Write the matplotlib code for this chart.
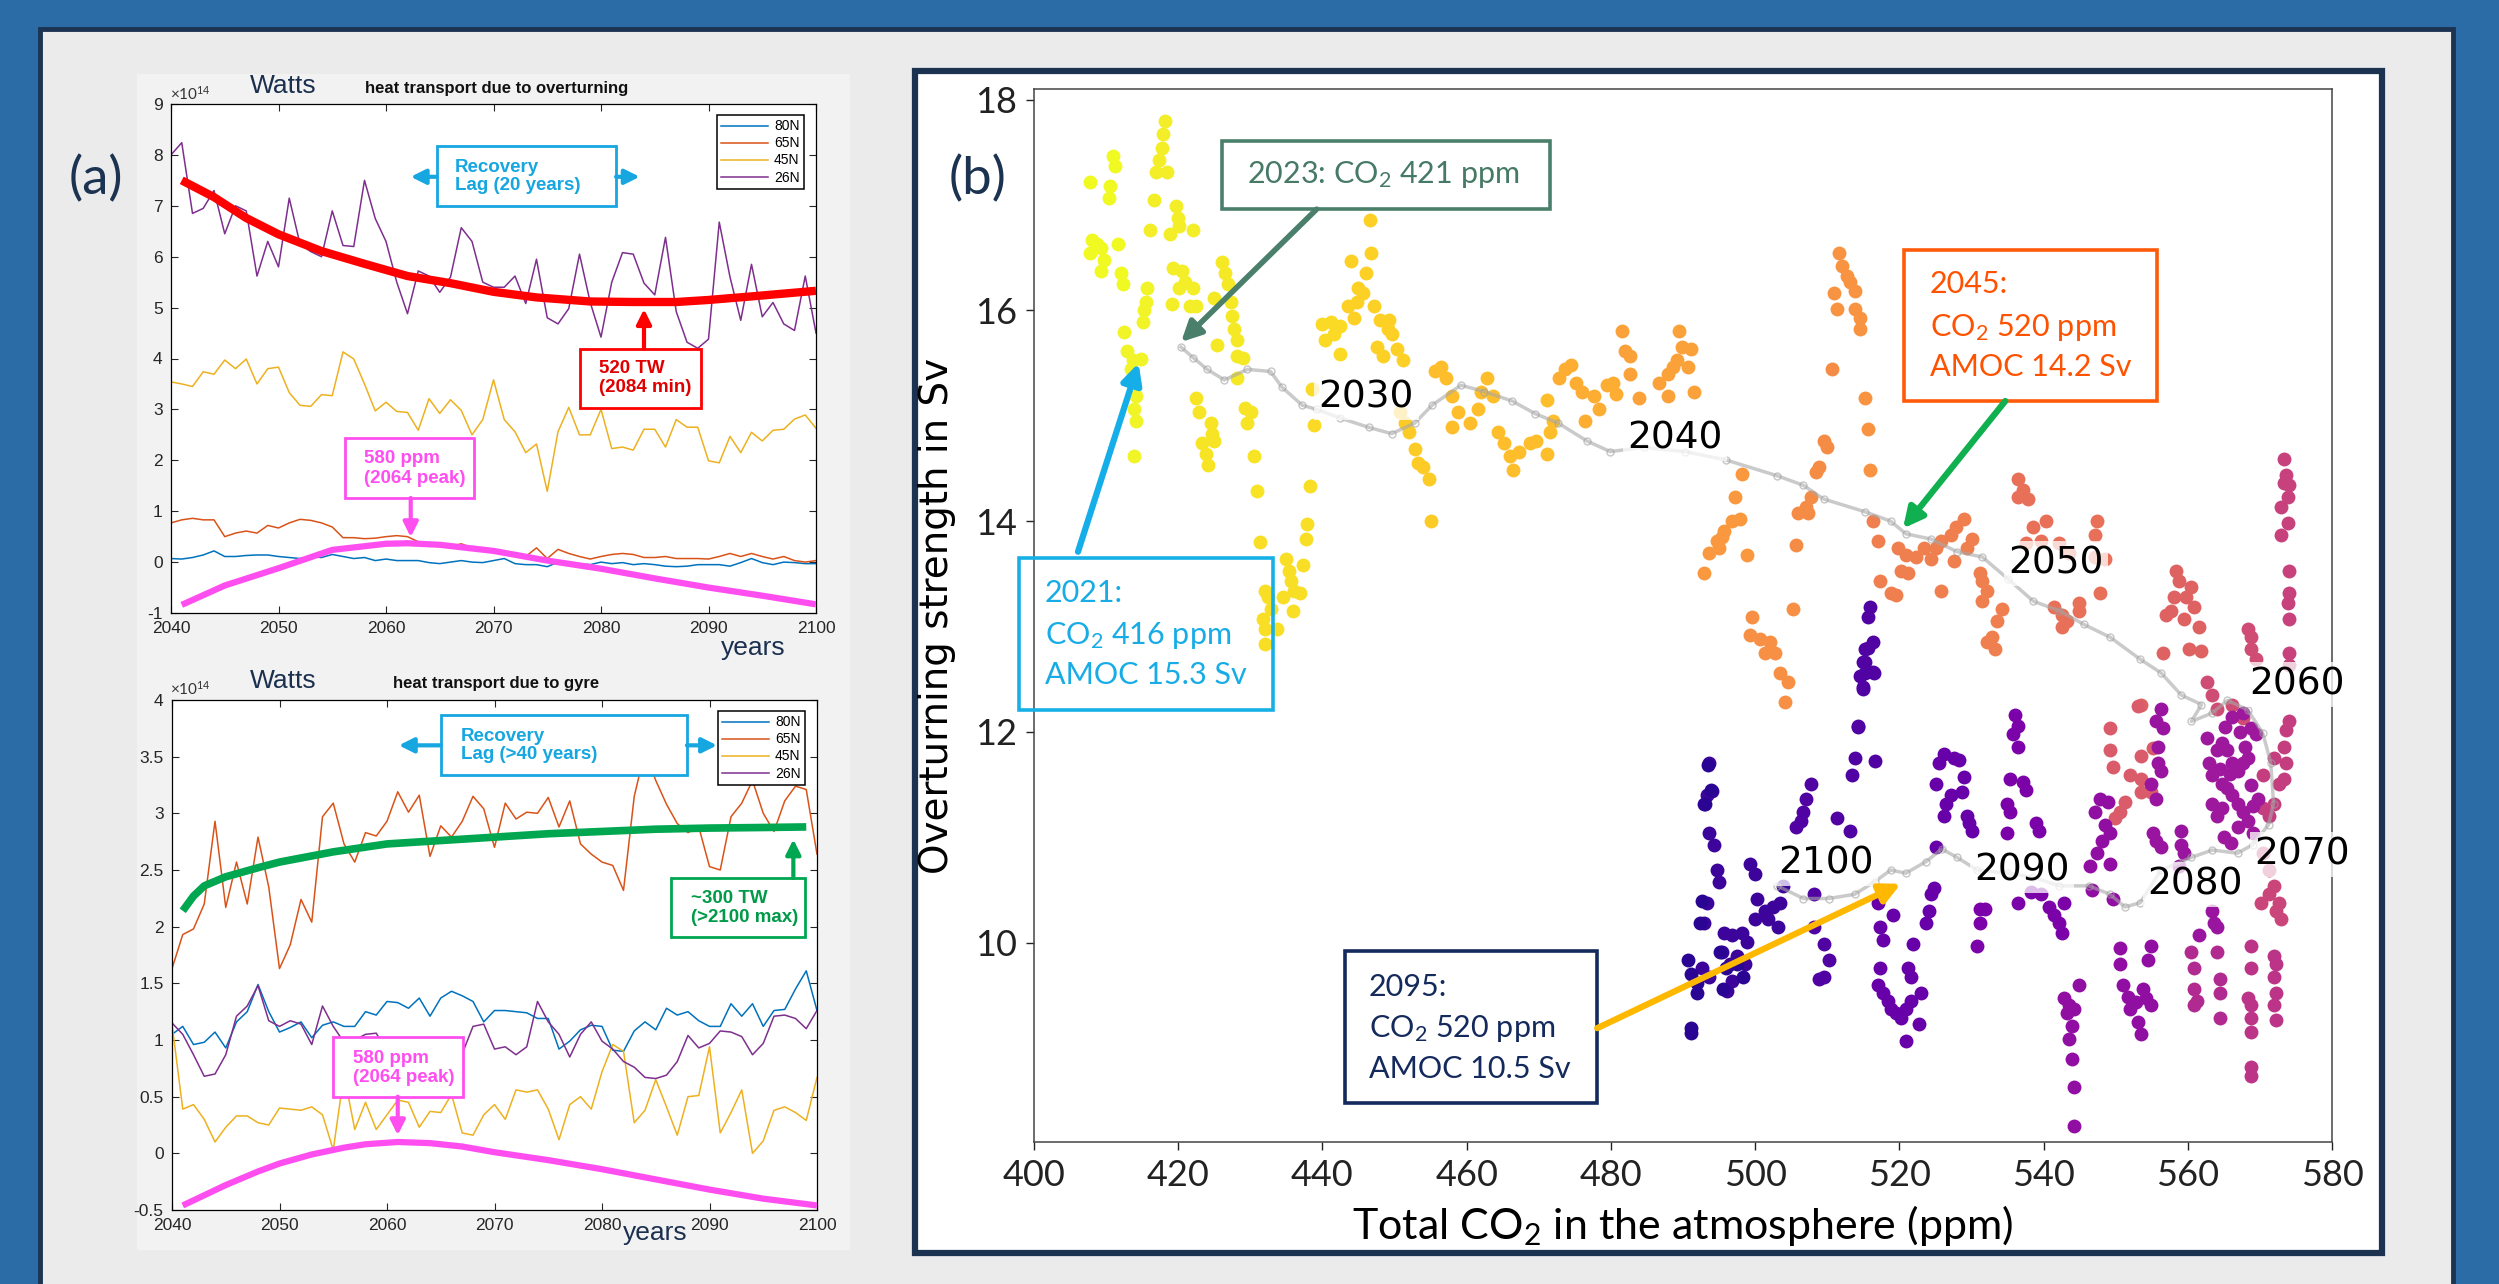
import matplotlib
matplotlib.use("Agg")
import matplotlib.pyplot as plt
from matplotlib.patches import Rectangle

W, H = 2499, 1284

plt.rcParams['axes.unicode_minus'] = False
plt.rcParams['mathtext.fontset'] = 'custom'
plt.rcParams['mathtext.rm'] = 'Lato'
plt.rcParams['mathtext.it'] = 'Lato:italic'
plt.rcParams['mathtext.bf'] = 'Lato:bold'

NARROW = ['Liberation Sans Narrow', 'Liberation Sans', 'DejaVu Sans']
CAL = ['Lato', 'DejaVu Sans']
NAVY = '#1b3350'

# ---------------- panel (a): heat transport, units of 1e14 W ----------------
years = list(range(2040, 2101))

ov_80n = [0.07, 0.06, 0.09, 0.14, 0.22, 0.11, 0.11, 0.13, 0.14, 0.14,
          0.11, 0.09, 0.07, 0.11, 0.09, 0.15, 0.11, 0.07, 0.09, 0.03,
          0.06, 0.03, 0.03, 0.03, -0.01, -0.03, 0.0, 0.03, 0.0, -0.01,
          0.03, 0.07, -0.03, -0.05, -0.05, -0.09, 0.0, 0.0, -0.03, -0.05,
          0.0, -0.03, -0.01, -0.05, -0.03, -0.05, -0.08, -0.09, -0.08, -0.05,
          -0.05, -0.05, -0.08, -0.01, 0.07, -0.01, -0.05, 0.0, -0.01, -0.03,
          -0.03]
ov_65n = [0.77, 0.83, 0.86, 0.83, 0.83, 0.5, 0.57, 0.61, 0.57, 0.72,
          0.67, 0.77, 0.84, 0.82, 0.77, 0.69, 0.48, 0.48, 0.46, 0.47,
          0.5, 0.52, 0.5, 0.4, 0.34, 0.32, 0.3, 0.36, 0.28, 0.23,
          0.19, 0.17, 0.14, 0.11, 0.28, 0.07, 0.25, 0.17, 0.11, 0.06,
          0.11, 0.15, 0.17, 0.15, 0.09, 0.09, 0.11, 0.07, 0.07, 0.07,
          0.06, 0.11, 0.17, 0.11, 0.17, 0.11, 0.06, 0.11, 0.03, 0.0,
          0.03]
ov_45n = [3.54, 3.5, 3.45, 3.74, 3.69, 3.97, 3.8, 3.99, 3.5, 3.8,
          3.83, 3.33, 3.08, 3.06, 3.29, 3.27, 4.13, 3.99, 3.5, 2.97,
          3.14, 2.96, 2.94, 2.59, 3.21, 2.92, 3.19, 2.98, 2.5, 2.8,
          3.58, 2.8, 2.56, 2.15, 2.32, 1.39, 2.56, 3.04, 2.5, 2.5,
          3.0, 2.23, 2.26, 2.2, 2.61, 2.61, 2.26, 2.8, 2.65, 2.65,
          1.99, 1.95, 2.47, 2.15, 2.55, 2.38, 2.59, 2.61, 2.81, 2.89,
          2.63]
ov_26n = [8.0, 8.24, 6.85, 6.95, 7.3, 6.45, 7.0, 6.9, 5.62, 6.3,
          5.8, 7.15, 6.25, 6.1, 6.0, 6.9, 6.22, 6.2, 7.5, 6.75,
          6.3, 5.5, 4.88, 5.72, 5.62, 5.3, 5.6, 6.57, 6.3, 5.5,
          5.4, 5.4, 5.62, 5.08, 5.95, 4.8, 4.68, 4.98, 6.05, 5.1,
          4.42, 5.5, 6.08, 6.05, 5.48, 5.25, 6.38, 4.92, 4.32, 4.2,
          4.38, 6.68, 5.6, 4.75, 5.85, 4.82, 5.1, 4.68, 4.55, 5.62,
          4.5]

gy_80n = [1.05, 1.12, 0.96, 0.98, 1.07, 0.93, 1.16, 1.25, 1.49, 1.25,
          1.07, 1.11, 1.16, 1.02, 1.13, 1.16, 1.12, 1.12, 1.25, 1.22,
          1.34, 1.33, 1.28, 1.37, 1.21, 1.37, 1.43, 1.39, 1.34, 1.16,
          1.26, 1.26, 1.25, 1.24, 1.19, 1.19, 0.92, 0.99, 1.09, 1.13,
          1.12, 0.91, 0.9, 1.08, 1.16, 1.09, 1.28, 1.22, 1.25, 1.17,
          1.12, 1.12, 1.32, 1.21, 1.32, 1.12, 1.26, 1.27, 1.45, 1.61,
          1.26]
gy_65n = [1.63, 1.93, 1.98, 2.2, 2.93, 2.17, 2.57, 2.2, 2.79, 2.35,
          1.63, 1.84, 2.24, 2.04, 2.97, 3.09, 2.73, 2.57, 2.83, 2.8,
          2.93, 3.19, 3.01, 3.16, 2.62, 2.89, 2.79, 2.93, 3.15, 3.04,
          2.7, 3.09, 2.95, 3.01, 3.0, 3.14, 2.88, 3.11, 2.73, 2.64,
          2.57, 2.54, 2.32, 3.15, 3.55, 3.29, 3.08, 2.91, 2.83, 2.88,
          2.53, 2.5, 2.97, 3.09, 3.29, 3.0, 2.84, 3.11, 3.24, 3.21,
          2.64]
gy_45n = [1.14, 0.39, 0.43, 0.3, 0.1, 0.23, 0.33, 0.33, 0.27, 0.25,
          0.4, 0.39, 0.38, 0.41, 0.34, 0.03, 0.7, 0.21, 0.45, 0.21,
          0.34, 0.47, 0.45, 0.23, 0.37, 0.36, 0.52, 0.18, 0.16, 0.34,
          0.43, 0.3, 0.56, 0.54, 0.56, 0.39, 0.12, 0.43, 0.5, 0.39,
          0.72, 0.96, 0.9, 0.27, 0.38, 0.65, 0.41, 0.16, 0.5, 0.51,
          0.94, 0.18, 0.36, 0.56, 0.0, 0.11, 0.38, 0.41, 0.36, 0.29,
          0.67]
gy_26n = [1.15, 1.05, 0.87, 0.68, 0.7, 0.87, 1.21, 1.3, 1.48, 1.17,
          1.12, 1.17, 1.14, 0.96, 1.3, 1.12, 0.98, 1.0, 1.05, 1.06,
          0.9, 0.85, 0.8, 0.9, 0.85, 0.95, 0.75, 0.88, 1.12, 1.14,
          0.92, 0.94, 0.87, 0.94, 1.34, 1.16, 1.05, 0.85, 1.05, 1.16,
          0.99, 0.92, 0.81, 0.76, 0.67, 0.66, 0.69, 0.81, 1.04, 0.93,
          0.97, 1.08, 1.07, 1.03, 0.87, 0.97, 1.21, 1.22, 1.19, 1.1,
          1.26]

# smooth fits
ov_fit_years = [2041, 2044, 2047, 2050, 2054, 2058, 2062, 2066, 2070, 2074, 2079, 2083, 2087, 2090, 2094, 2100]
ov_fit = [7.5, 7.17, 6.76, 6.44, 6.11, 5.86, 5.62, 5.48, 5.31, 5.2, 5.12, 5.11, 5.11, 5.15, 5.22, 5.33]
ov_co2_years = [2041, 2045, 2050, 2055, 2060, 2062, 2065, 2070, 2075, 2080, 2085, 2090, 2095, 2100]
ov_co2 = [-0.84, -0.46, -0.12, 0.24, 0.36, 0.37, 0.34, 0.22, 0.03, -0.13, -0.32, -0.5, -0.66, -0.83]
gy_fit_years = [2041, 2042, 2043, 2045, 2048, 2050, 2055, 2060, 2065, 2070, 2075, 2080, 2085, 2090, 2095, 2099]
gy_fit = [2.14, 2.27, 2.36, 2.44, 2.52, 2.57, 2.66, 2.73, 2.76, 2.79, 2.82, 2.84, 2.86, 2.87, 2.875, 2.88]
gy_co2_years = [2041, 2043, 2045, 2048, 2050, 2053, 2056, 2058, 2061, 2064, 2067, 2070, 2075, 2080, 2085, 2090, 2095, 2100]
gy_co2 = [-0.46, -0.37, -0.28, -0.16, -0.09, -0.01, 0.05, 0.08, 0.1, 0.09, 0.06, 0.01, -0.06, -0.14, -0.23, -0.32, -0.4, -0.46]

line_labels = ['80N', '65N', '45N', '26N']
line_colors = ['#0072BD', '#D95319', '#EDB120', '#7E2F8E']
gy_yticklabels = ['-0.5', '0', '0.5', '1', '1.5', '2', '2.5', '3', '3.5', '4']

# ---------------- panel (b): AMOC vs CO2, one group per year ----------------
c2021 = [407.7, 410.9, 411.2, 410.5, 410.4, 408.1, 408.8, 407.7, 409.3, 409.7, 409.3, 411.6, 412.0, 412.4]
s2021 = [17.22, 17.46, 17.37, 17.18, 17.07, 16.67, 16.63, 16.54, 16.59, 16.48, 16.37, 16.63, 16.35, 16.25]
c2022 = [412.5, 412.9, 413.7, 414.9, 413.4, 414.1, 413.9, 414.1, 413.9, 415.7, 415.5, 415.3, 415.1]
s2022 = [15.79, 15.61, 15.53, 15.54, 15.44, 15.19, 15.06, 14.95, 14.62, 16.21, 16.08, 16.00, 15.89]
c2023 = [418.1, 417.9, 417.7, 417.3, 416.9, 418.5, 416.7, 416.1, 419.7, 420.0, 420.1, 418.9, 422.1, 419.3,
         420.5, 420.9, 422.1, 420.1, 419.1, 421.7, 422.5]
s2023 = [17.80, 17.67, 17.54, 17.43, 17.31, 17.31, 17.05, 16.76, 16.99, 16.88, 16.80, 16.72, 16.76, 16.40,
         16.37, 16.27, 16.21, 16.21, 16.06, 16.04, 16.04]
c2024 = [426.1, 426.5, 426.9, 424.9, 427.3, 427.4, 427.7, 425.4, 428.1, 428.2, 429.0, 428.1]
s2024 = [16.46, 16.35, 16.25, 16.12, 16.08, 15.95, 15.82, 15.67, 15.72, 15.57, 15.55, 15.36]
c2025 = [422.5, 422.9, 424.5, 424.7, 423.3, 423.9, 424.1, 424.9, 429.3, 429.5, 430.1, 430.5, 430.9]
s2025 = [15.17, 15.04, 14.93, 14.83, 14.74, 14.64, 14.53, 14.76, 15.07, 14.93, 15.04, 14.62, 14.29]
c2026 = [431.3, 432.1, 432.5, 432.9, 431.7, 432.1, 433.7, 432.1, 434.5, 434.9, 435.3, 435.9, 435.7, 436.1,
         436.9, 437.3, 437.7, 437.8, 438.3]
s2026 = [13.80, 13.34, 13.28, 13.17, 13.07, 12.98, 12.98, 12.83, 13.28, 13.64, 13.53, 13.15, 13.43, 13.34,
         13.32, 13.58, 13.83, 13.97, 14.33]
c2027 = [438.5, 438.8, 440.0, 441.2, 442.4, 441.6, 440.4, 442.4]
s2027 = [15.25, 14.91, 15.87, 15.89, 15.85, 15.78, 15.72, 15.59]
c2029 = [443.6, 444.4, 444.8, 445.0, 445.6, 446.0, 444.0, 446.8, 446.6, 447.2, 448.0, 449.2, 449.1, 449.6,
         447.6, 448.4, 450.3, 451.2]
s2029 = [16.04, 15.93, 16.08, 16.21, 16.16, 16.35, 16.47, 16.54, 16.86, 16.04, 15.91, 15.91, 15.82, 15.78,
         15.65, 15.57, 15.63, 15.53]
c2030 = [452.0, 452.8, 453.2, 454.0, 454.8, 455.0, 451.4, 450.8]
s2030 = [14.85, 14.68, 14.55, 14.51, 14.40, 14.00, 14.93, 15.04]
c2033 = [455.6, 456.4, 457.2, 458.0, 458.8, 458.0, 460.4, 461.6, 462.8, 462.0, 463.6, 464.4, 465.2, 466.0,
         466.4, 467.2, 468.8, 469.6, 471.2, 471.6, 472.0, 471.2]
s2033 = [15.42, 15.46, 15.36, 15.19, 15.04, 14.89, 14.93, 15.06, 15.36, 15.23, 15.19, 14.85, 14.74, 14.62,
         14.49, 14.66, 14.74, 14.76, 14.64, 14.85, 14.95, 15.15]
c2036 = [472.8, 473.6, 474.4, 475.2, 476.0, 476.4, 477.6, 478.4, 479.5, 480.3, 480.7]
s2036 = [15.36, 15.44, 15.48, 15.31, 15.23, 14.95, 15.19, 15.06, 15.29, 15.31, 15.21]
c2039 = [481.5, 481.9, 482.7, 482.7, 483.9, 486.7, 487.9, 488.6, 489.1, 489.5, 489.9, 491.1, 490.7, 491.5, 487.9]
s2039 = [15.80, 15.61, 15.57, 15.40, 15.17, 15.31, 15.40, 15.46, 15.53, 15.80, 15.65, 15.63, 15.46, 15.23, 15.19]
c2041 = [498.2, 497.2, 497.9, 496.8, 495.7, 495.4, 494.7, 495.0, 493.6, 492.9, 498.9]
s2041 = [14.45, 14.23, 14.02, 14.00, 13.91, 13.85, 13.81, 13.75, 13.70, 13.51, 13.68]
c2042 = [511.7, 512.0, 512.7, 513.1, 513.8, 511.0, 511.3, 513.8, 514.5, 514.6, 515.2, 515.6, 515.9]
s2042 = [16.54, 16.42, 16.33, 16.27, 16.18, 16.16, 16.01, 16.01, 15.93, 15.82, 15.17, 14.87, 14.49]
c2043 = [499.6, 499.3, 500.7, 501.4, 502.1, 502.8, 503.5, 504.6, 504.2, 505.3]
s2043 = [13.09, 12.92, 12.88, 12.75, 12.85, 12.75, 12.56, 12.47, 12.28, 13.17]
c2044 = [509.5, 509.9, 508.8, 508.5, 507.8, 507.1, 507.4, 506.0, 505.7, 510.6]
s2044 = [14.76, 14.70, 14.51, 14.47, 14.23, 14.13, 14.08, 14.08, 13.77, 15.44]
c2047 = [516.3, 517.0, 519.8, 520.9, 522.3, 523.4, 525.1, 524.4, 525.8, 527.2, 527.9, 529.0, 530.1, 529.4,
         527.6, 520.2, 521.2, 517.3, 518.8, 519.5, 525.8, 531.2, 531.5, 532.2, 531.5, 534.3, 533.6, 532.9,
         533.3, 532.2]
s2047 = [14.00, 13.81, 13.75, 13.68, 13.66, 13.75, 13.75, 13.64, 13.81, 13.87, 13.94, 14.02, 13.83, 13.75,
         13.62, 13.53, 13.51, 13.43, 13.32, 13.30, 13.34, 13.51, 13.43, 13.34, 13.24, 13.17, 13.05, 12.90,
         12.79, 12.85]
c2051 = [536.5, 537.2, 536.5, 537.9, 538.6, 540.4, 537.5, 539.7, 542.1, 543.5, 547.4, 547.1, 547.1, 548.5,
         547.8, 541.4, 542.5, 544.9, 544.9, 543.2, 542.5]
s2051 = [14.40, 14.30, 14.23, 14.21, 13.94, 14.00, 13.79, 13.81, 13.79, 13.70, 14.00, 13.87, 13.66, 13.64,
         13.32, 13.19, 13.11, 13.22, 13.15, 13.05, 13.00]
c2055 = [556.6, 558.4, 558.8, 558.1, 559.8, 560.5, 560.9, 557.7, 557.0, 559.5, 561.6, 560.2, 561.9, 553.5]
s2055 = [12.75, 13.53, 13.43, 13.28, 13.28, 13.38, 13.19, 13.15, 13.11, 13.07, 13.00, 12.79, 12.77, 12.26]
c2057 = [553.1, 549.2, 555.2, 549.2, 549.6, 553.5, 552.0, 553.5, 551.3, 550.6, 553.5, 554.9, 549.9]
s2057 = [12.25, 12.04, 11.85, 11.83, 11.67, 11.77, 11.59, 11.55, 11.34, 11.24, 11.43, 11.43, 11.18]
c2061 = [568.3, 568.7, 568.7, 569.4, 562.7, 563.4, 564.1, 566.2, 567.6]
s2061 = [12.98, 12.90, 12.79, 12.69, 12.47, 12.35, 12.22, 12.26, 12.13]
c2063 = [570.5, 571.2, 571.9, 572.6, 571.2, 570.1, 572.2, 572.9]
s2063 = [10.85, 10.69, 10.54, 10.38, 10.46, 10.38, 10.30, 10.23]
c2064 = [573.3, 573.6, 573.3, 574.0, 573.9, 572.9, 573.9, 572.9, 574.0, 574.0, 573.9, 574.0, 574.0, 574.0]
s2064 = [14.59, 14.44, 14.36, 14.34, 14.23, 14.13, 13.98, 13.87, 13.53, 13.32, 13.22, 13.07, 12.75, 12.64]
c2065 = [570.5, 571.2, 571.9, 572.6, 573.3, 573.6, 573.3, 573.6, 574.0, 571.9, 570.5]
s2065 = [11.28, 11.20, 11.32, 11.51, 11.55, 11.71, 11.86, 12.02, 12.10, 11.75, 11.59]
c2068 = [568.7, 568.7, 568.3, 568.7, 568.7, 568.7, 568.7, 568.7, 571.9, 572.2, 571.9, 572.2, 571.9, 572.2]
s2068 = [9.97, 9.76, 9.48, 9.41, 9.29, 9.15, 8.82, 8.74, 9.87, 9.80, 9.68, 9.52, 9.41, 9.27]
c2071 = [560.5, 560.9, 560.9, 561.3, 560.9, 564.1, 564.4, 564.4, 564.4]
s2071 = [9.91, 9.76, 9.56, 9.45, 9.41, 9.91, 9.66, 9.52, 9.29]
c2076 = [562.7, 563.0, 563.4, 564.1, 564.8, 565.5, 566.2, 566.9, 567.6, 568.0, 568.3, 564.8, 565.5, 566.2,
         566.9, 567.6, 568.3, 569.0, 569.7, 564.1, 563.4, 564.8, 566.2, 567.6, 568.7, 569.4,
         565.0, 566.0, 567.0, 565.8, 564.5, 567.2, 568.8, 569.0, 565.2]
s2076 = [11.94, 11.71, 11.59, 11.83, 11.90, 11.83, 11.71, 11.63, 11.71, 11.86, 11.75, 11.51, 11.47, 11.40,
         11.32, 11.24, 11.16, 11.04, 11.36, 11.20, 11.32, 11.28, 12.14, 12.18, 12.04, 11.98,
         11.00, 10.95, 11.10, 11.60, 11.65, 12.00, 11.50, 11.30, 12.05]
c2077 = [555.2, 555.6, 556.3, 555.6, 555.9, 556.3, 554.9, 555.9, 555.6, 556.3, 556.6, 559.1, 559.1, 559.5,
         558.8, 561.6, 563.7, 564.1, 563.4]
s2077 = [11.04, 10.97, 10.91, 11.36, 11.71, 11.63, 11.51, 11.86, 12.10, 12.22, 12.04, 11.06, 10.93, 10.85,
         10.73, 10.07, 10.19, 10.15, 10.30]
c2079 = [547.1, 547.8, 548.9, 548.5, 549.2, 548.1, 547.4, 546.4, 549.2, 549.6, 546.7, 550.6, 550.6, 551.0,
         551.7, 552.0, 552.8, 553.1, 553.5, 553.8, 554.9, 554.5, 554.2, 554.9, 542.8, 543.5, 543.2, 544.2,
         543.9, 543.5, 543.9, 544.2, 544.2, 544.9]
s2079 = [11.24, 11.36, 11.34, 11.12, 11.04, 10.97, 10.85, 10.73, 10.75, 10.42, 10.50, 9.95, 9.80, 9.60,
         9.49, 9.37, 9.44, 9.25, 9.13, 9.56, 9.97, 9.84, 9.48, 9.41, 9.48, 9.41, 9.33, 9.37,
         9.21, 9.09, 8.90, 8.63, 8.26, 9.60]
c2084 = [531.2, 531.2, 530.8, 531.9, 535.0, 536.1, 536.5, 535.8, 536.5, 535.4, 537.2, 537.5, 535.0, 535.4,
         538.9, 539.3, 539.7, 540.7, 541.4, 542.1, 542.5, 542.8, 536.5, 538.2]
s2084 = [10.32, 10.19, 9.97, 10.32, 11.04, 12.16, 12.06, 11.98, 11.86, 11.55, 11.53, 11.45, 11.32, 11.24,
         11.14, 11.06, 10.46, 10.34, 10.26, 10.19, 10.09, 10.38, 10.38, 10.48]
c2088 = [517.0, 517.3, 517.7, 519.1, 517.3, 517.0, 517.7, 518.4, 518.8, 519.5, 520.2, 520.9, 521.6, 521.2,
         520.9, 521.9, 522.7, 523.0, 521.6, 523.7, 524.1, 524.4, 524.8, 525.1, 526.2, 525.5, 527.6, 528.3,
         525.1, 526.5, 527.2, 529.0, 528.7, 526.2, 529.4, 529.7, 530.1]
s2088 = [10.38, 10.15, 10.03, 10.26, 9.76, 9.60, 9.52, 9.45, 9.37, 9.33, 9.29, 9.37, 9.45, 9.76,
         9.07, 9.99, 9.23, 9.52, 9.68, 10.19, 10.30, 10.46, 10.52, 10.91, 11.79, 11.71, 11.75, 11.73,
         11.51, 11.32, 11.40, 11.57, 11.43, 11.20, 11.20, 11.14, 11.06]
c2093 = [505.7, 506.7, 506.4, 507.8, 507.1, 508.1, 508.1, 509.5, 510.3, 509.5, 508.8, 511.3, 513.1, 513.8,
         513.5, 514.2, 516.6, 514.9, 515.2, 515.6, 514.5, 516.3, 515.9, 515.6, 516.3, 515.2, 514.9, 515.2,
         516.5, 514.9, 514.2]
s2093 = [11.10, 11.24, 11.16, 11.51, 11.36, 10.46, 10.15, 9.99, 9.84, 9.68, 9.66, 11.18, 11.06, 11.75,
         11.59, 12.06, 11.72, 12.43, 12.66, 12.80, 12.53, 12.57, 13.19, 13.09, 12.85, 12.79, 12.66, 12.56,
         12.56, 12.41, 12.05]
c2097 = [493.6, 494.0, 493.3, 492.9, 493.6, 494.3, 494.7, 495.0, 493.3, 492.9, 492.6, 493.6, 495.4, 496.5,
         497.5, 498.6, 496.8, 496.1, 495.7, 496.8, 498.2, 498.9, 499.3, 500.0, 500.3, 501.4, 500.0, 501.8,
         502.5, 503.5, 503.2, 503.9]
s2097 = [11.71, 11.44, 11.40, 11.32, 11.04, 10.93, 10.69, 10.58, 10.38, 10.19, 9.76, 9.68, 9.91, 9.80,
         9.87, 9.80, 9.64, 9.54, 10.09, 10.07, 10.09, 10.01, 10.75, 10.65, 10.42, 10.30, 10.23, 10.23,
         10.34, 10.38, 10.15, 10.54]
c2100 = [493.5, 493.9, 493.1, 492.7, 492.3, 490.7, 491.1, 491.9, 491.9, 491.1, 491.1, 495.1, 495.9, 495.5, 497.5, 498.3]
s2100 = [11.69, 11.45, 11.32, 10.40, 10.19, 9.84, 9.70, 9.62, 9.52, 9.19, 9.14, 9.91, 9.76, 9.56, 9.80, 9.68]

groups = [(2021, c2021, s2021), (2022, c2022, s2022), (2023, c2023, s2023), (2024, c2024, s2024),
          (2025, c2025, s2025), (2026, c2026, s2026), (2027, c2027, s2027), (2029, c2029, s2029),
          (2030, c2030, s2030), (2033, c2033, s2033), (2036, c2036, s2036), (2039, c2039, s2039),
          (2041, c2041, s2041), (2042, c2042, s2042), (2043, c2043, s2043), (2044, c2044, s2044),
          (2047, c2047, s2047), (2051, c2051, s2051), (2055, c2055, s2055), (2057, c2057, s2057),
          (2061, c2061, s2061), (2063, c2063, s2063), (2064, c2064, s2064), (2065, c2065, s2065),
          (2068, c2068, s2068), (2071, c2071, s2071), (2076, c2076, s2076), (2077, c2077, s2077),
          (2079, c2079, s2079), (2084, c2084, s2084), (2088, c2088, s2088), (2093, c2093, s2093),
          (2097, c2097, s2097), (2100, c2100, s2100)]

# running mean path
traj_co2 = [420.4, 422.1, 424.0, 426.4, 429.6, 432.8, 434.4, 437.2, 439.2, 442.4, 446.4, 449.6, 452.8, 455.2,
            459.2, 462.4, 466.3, 469.5, 472.7, 476.7, 479.9, 484.6, 490.3, 496.0, 503.1, 506.7, 509.5, 515.2,
            518.8, 520.9, 524.4, 528.0, 531.5, 535.1, 538.6, 542.2, 545.6, 549.2, 553.4, 556.3, 559.1, 561.9,
            560.5, 563.4, 565.5, 568.3, 570.4, 571.5, 571.9, 571.2, 569.0, 566.9, 563.4, 560.5, 556.3, 553.4,
            551.3, 549.2, 546.3, 542.2, 538.6, 535.1, 530.8, 528.0, 525.9, 523.7, 520.9, 518.8, 516.6, 513.8,
            510.2, 506.7, 503.1]
traj_sv = [15.65, 15.55, 15.44, 15.34, 15.44, 15.42, 15.27, 15.10, 15.06, 14.98, 14.89, 14.83, 14.93, 15.10,
           15.29, 15.23, 15.14, 15.02, 14.93, 14.76, 14.66, 14.70, 14.66, 14.58, 14.43, 14.34, 14.21, 14.09,
           14.00, 13.88, 13.83, 13.71, 13.66, 13.45, 13.24, 13.15, 13.02, 12.90, 12.69, 12.56, 12.35, 12.26,
           12.10, 12.18, 12.30, 12.21, 11.99, 11.71, 11.32, 11.12, 10.93, 10.85, 10.88, 10.81, 10.69, 10.38,
           10.34, 10.46, 10.54, 10.54, 10.62, 10.66, 10.69, 10.81, 10.89, 10.77, 10.66, 10.69, 10.58, 10.46,
           10.42, 10.42, 10.54]

yr_labels = ['2030', '2040', '2050', '2060', '2070', '2080', '2090', '2100']
yr_co2 = [446.1, 488.9, 541.7, 575.2, 575.9, 561.0, 537.0, 509.8]
yr_sv = [15.17, 14.78, 13.60, 12.45, 10.84, 10.55, 10.69, 10.75]

# ---------------------------------------------------------------------------
fig = plt.figure(figsize=(W / 100, H / 100), dpi=100)
fig.patch.set_facecolor('#2b6ca7')


def px_rect(x0, y0, x1, y1, **kw):
    r = Rectangle((x0 / W, 1 - y1 / H), (x1 - x0) / W, (y1 - y0) / H,
                  transform=fig.transFigure, zorder=-1, **kw)
    fig.add_artist(r)


def px_text(x, y, s, **kw):
    fig.text(x / W, 1 - y / H, s, **kw)


px_rect(40, 29, 2453, 1300, facecolor='#ebebeb', edgecolor='#1c3452', lw=3.5)
px_rect(137, 74, 850, 1250, facecolor='#f2f2f2', edgecolor='none')
px_rect(915, 71, 2382, 1253, facecolor='white', edgecolor=NAVY, lw=4.5)


def heat_axes(x0, y0, x1, y1, series, ylim, yticks):
    ax = fig.add_axes([x0 / W, 1 - y1 / H, (x1 - x0) / W, (y1 - y0) / H])
    for vals, col, lab in zip(series, line_colors, line_labels):
        ax.plot(years, vals, color=col, lw=1.1, label=lab, zorder=2)
    ax.set_xlim(2040, 2100)
    ax.set_ylim(*ylim)
    ax.set_xticks(range(2040, 2101, 10))
    ax.set_yticks(yticks)
    ax.tick_params(direction='in', top=True, right=True, length=5, width=0.8,
                   labelsize=12.5, pad=6, colors='#262626')
    for lbl in ax.get_xticklabels() + ax.get_yticklabels():
        lbl.set_family(NARROW)
    for sp in ax.spines.values():
        sp.set_linewidth(0.9)
    leg = ax.legend(loc='upper right', bbox_to_anchor=(0.981, 0.978), prop={'family': NARROW, 'size': 10},
                    fancybox=False, edgecolor='black', framealpha=1, handlelength=3.4,
                    labelspacing=0.22, borderpad=0.3, handletextpad=0.4, borderaxespad=0)
    leg.get_frame().set_linewidth(1.1)
    return ax


def label_box(ax, x, y, w, h, color, lines, tx, ty, tcolor):
    ax.add_patch(Rectangle((x, y), w, h, facecolor='white', edgecolor=color, lw=2, zorder=5))
    for s, yy in zip(lines, ty):
        ax.text(tx, yy, s, color=tcolor, fontsize=13.5, weight='bold', family=NARROW,
                va='center', ha='left', zorder=6)


def arrow(ax, x0, y0, x1, y1, color, lw=3, ms=22, z=6):
    ax.annotate('', xy=(x1, y1), xytext=(x0, y0),
                arrowprops=dict(arrowstyle='-|>', color=color, lw=lw, mutation_scale=ms,
                                shrinkA=0, shrinkB=0), zorder=z, annotation_clip=False)


CYAN, RED, MAG, GRN = '#16a6e0', '#ff0000', '#ff4ef0', '#00a650'

# top (a): overturning
ax1 = heat_axes(171, 104, 816, 613, [ov_80n, ov_65n, ov_45n, ov_26n], (-1, 9), range(-1, 10))
ax1.plot(ov_fit_years, ov_fit, color=RED, lw=6, solid_capstyle='butt', zorder=3)
ax1.plot(ov_co2_years, ov_co2, color=MAG, lw=4.5, solid_capstyle='butt', zorder=3)
label_box(ax1, 2064.7, 7.0, 16.7, 1.17, CYAN, ['Recovery', 'Lag (20 years)'], 2066.4, [7.75, 7.39], CYAN)
arrow(ax1, 2064.7, 7.57, 2062.3, 7.57, CYAN)
arrow(ax1, 2081.4, 7.57, 2083.6, 7.57, CYAN)
label_box(ax1, 2078.0, 3.03, 11.3, 1.16, RED, ['520 TW', '(2084 min)'], 2079.8, [3.81, 3.44], '#e00000')
arrow(ax1, 2084.0, 4.19, 2084.0, 4.97, RED)
label_box(ax1, 2056.2, 1.26, 12.0, 1.18, MAG, ['580 ppm', '(2064 peak)'], 2058.0, [2.03, 1.65], MAG)
arrow(ax1, 2062.3, 1.26, 2062.3, 0.49, MAG)

# bottom (a): gyre
ax2 = heat_axes(172, 700, 817, 1210, [gy_80n, gy_65n, gy_45n, gy_26n], (-0.5, 4),
                [-0.5, 0, 0.5, 1, 1.5, 2, 2.5, 3, 3.5, 4])
ax2.set_yticklabels(gy_yticklabels, family=NARROW)
ax2.plot(gy_fit_years, gy_fit, color=GRN, lw=5.5, solid_capstyle='butt', zorder=3)
ax2.plot(gy_co2_years, gy_co2, color=MAG, lw=4.5, solid_capstyle='butt', zorder=3)
label_box(ax2, 2065.0, 3.34, 22.9, 0.53, CYAN, ['Recovery', 'Lag (>40 years)'], 2066.9, [3.68, 3.52], CYAN)
arrow(ax2, 2065.0, 3.60, 2061.1, 3.60, CYAN)
arrow(ax2, 2087.9, 3.60, 2090.7, 3.60, CYAN)
label_box(ax2, 2086.4, 1.91, 12.5, 0.52, GRN, ['~300 TW', '(>2100 max)'], 2088.25, [2.25, 2.08], '#009a48')
arrow(ax2, 2097.8, 2.43, 2097.8, 2.77, GRN)
label_box(ax2, 2055.0, 0.50, 12.1, 0.53, MAG, ['580 ppm', '(2064 peak)'], 2056.85, [0.84, 0.67], MAG)
arrow(ax2, 2061.0, 0.50, 2061.0, 0.16, MAG)

px_text(96, 179, '(a)', ha='center', va='center', fontsize=38, family=CAL, color=NAVY)
for ytop, title, tx in [(89, 'heat transport due to overturning', 365), (684, 'heat transport due to gyre', 393)]:
    px_text(250, ytop - 3, 'Watts', fontsize=19, family=NARROW, color='#1b2f4f', va='center')
    px_text(tx, ytop, title, fontsize=12, weight='bold', family=NARROW, color='#111111', va='center')
    px_text(170, ytop + 5, r'$\times10^{14}$', fontsize=11, color='#333333', va='center')
px_text(721, 648, 'years', fontsize=19, family=NARROW, color='#1b2f4f', va='center')
px_text(623, 1233, 'years', fontsize=19, family=NARROW, color='#1b2f4f', va='center')

# ---------------- panel (b) ----------------
ax3 = fig.add_axes([1034 / W, 1 - 1142 / H, (2332 - 1034) / W, (1142 - 89) / H])
cmap = plt.get_cmap('plasma')
for yr, cx, sy in groups:
    ax3.scatter(cx, sy, s=100, color=cmap(1 - (yr - 2021) / 79 * 0.95), linewidths=0, zorder=2)
ax3.plot(traj_co2, traj_sv, color='#a8a8a8', lw=2.5, alpha=0.6, marker='o', ms=5,
         mfc='none', mec='#a0a0a0', mew=1, zorder=3)
for s, x, y in zip(yr_labels, yr_co2, yr_sv):
    ax3.text(x, y, s, fontsize=27, ha='center', va='center', color='black', zorder=4,
             bbox=dict(boxstyle='square,pad=0.12', facecolor='white', edgecolor='none', alpha=0.75))

ax3.set_xlim(400, 580)
ax3.set_ylim(8.11, 18.1)
ax3.set_xticks(range(400, 581, 20))
ax3.set_yticks([10, 12, 14, 16, 18])
ax3.tick_params(direction='out', length=6, width=1, labelsize=26, pad=6, colors='#222222')
for lbl in ax3.get_xticklabels() + ax3.get_yticklabels():
    lbl.set_family(CAL)
for sp in ax3.spines.values():
    sp.set_linewidth(1.1)
    sp.set_color('#444444')
ax3.set_xlabel('Total CO$_2$ in the atmosphere (ppm)', fontsize=31, family=CAL, labelpad=8)
ax3.set_ylabel('Overturning strength in Sv', fontsize=28, labelpad=14)


def note(x0, y0, x1, y1, color, tcolor, lines, tx, ty):
    ax3.add_patch(Rectangle((x0, y0), x1 - x0, y1 - y0, facecolor='none', edgecolor=color,
                            lw=2.6, zorder=5, clip_on=False))
    for s, yy in zip(lines, ty):
        ax3.text(tx, yy, s, color=tcolor, fontsize=22, family=CAL, va='center', ha='left', zorder=6)


note(426.1, 16.96, 471.6, 17.61, '#4a7f6b', '#467a66', ['2023: CO$_2$ 421 ppm'], 429.6, [17.29])
arrow(ax3, 439.2, 16.96, 420.4, 15.70, '#4a7f6b', lw=4, ms=30)
note(397.9, 12.21, 433.2, 13.65, '#17b0e6', '#17ace6',
     ['2021:', 'CO$_2$ 416 ppm', 'AMOC 15.3 Sv'], 401.5, [13.32, 12.92, 12.54])
arrow(ax3, 406.1, 13.71, 414.5, 15.50, '#16aee8', lw=4.5, ms=30)
note(520.6, 15.14, 555.8, 16.57, '#ff5a0a', '#ff5200',
     ['2045:', 'CO$_2$ 520 ppm', 'AMOC 14.2 Sv'], 524.2, [16.25, 15.84, 15.46])
arrow(ax3, 534.7, 15.14, 520.5, 13.93, '#10b050', lw=4.5, ms=30)
note(443.1, 8.48, 478.1, 9.92, '#142a5c', '#142a5c',
     ['2095:', 'CO$_2$ 520 ppm', 'AMOC 10.5 Sv'], 446.4, [9.58, 9.19, 8.80])
arrow(ax3, 478.1, 9.19, 520.2, 10.56, '#ffb800', lw=4.5, ms=30)

px_text(978, 179, '(b)', ha='center', va='center', fontsize=38, family=CAL, color=NAVY)

fig.savefig('out.png', dpi=100, facecolor=fig.get_facecolor())
